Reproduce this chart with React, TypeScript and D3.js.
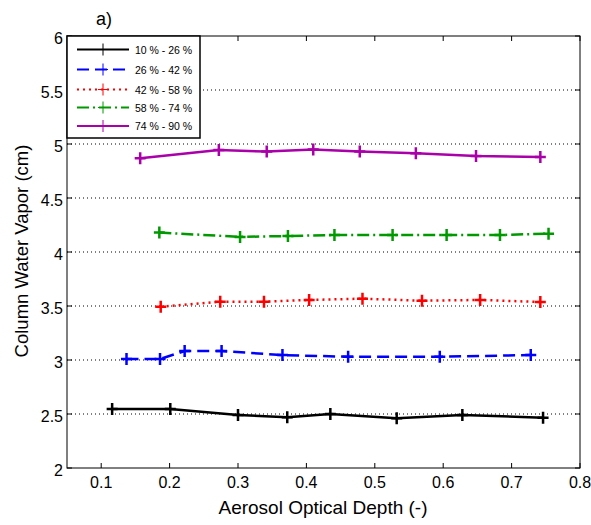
import React, { useEffect, useRef } from 'react';
import * as d3 from 'd3';

// Series data (AOD, column water vapor)
const seriesNames = ['10% - 26%', '26% - 42%', '42% - 58%', '58% - 74%', '74% - 90%'];
const seriesColors = ['#000000', '#0000ff', '#ff0000', '#009900', '#aa00aa'];
const seriesDash = ['', '12,6', '2,4', '12,4,2,4', ''];

const aod1 = [0.116, 0.201, 0.300, 0.372, 0.435, 0.532, 0.628, 0.746];
const cwv1 = [2.546, 2.546, 2.49, 2.47, 2.50, 2.46, 2.49, 2.466];
const aod2 = [0.137, 0.186, 0.222, 0.276, 0.365, 0.461, 0.595, 0.728];
const cwv2 = [3.009, 3.009, 3.083, 3.083, 3.046, 3.03, 3.03, 3.046];
const aod3 = [0.187, 0.274, 0.338, 0.404, 0.482, 0.569, 0.654, 0.742];
const cwv3 = [3.493, 3.54, 3.54, 3.556, 3.568, 3.549, 3.556, 3.537];
const aod4 = [0.185, 0.303, 0.373, 0.441, 0.526, 0.605, 0.683, 0.754];
const cwv4 = [4.18, 4.14, 4.148, 4.157, 4.157, 4.157, 4.157, 4.17];
const aod5 = [0.157, 0.272, 0.342, 0.410, 0.478, 0.560, 0.648, 0.742];
const cwv5 = [4.868, 4.944, 4.93, 4.95, 4.93, 4.914, 4.89, 4.88];

const xTicks = [0.1, 0.2, 0.3, 0.4, 0.5, 0.6, 0.7, 0.8];
const yTicks = [2, 2.5, 3, 3.5, 4, 4.5, 5, 5.5, 6];

export default function App() {
    const ref = useRef<SVGSVGElement>(null);

    useEffect(() => {
        const svg = d3.select(ref.current);
        svg.selectAll('*').remove();

        const left = 67, right = 580, top = 36, bottom = 468;
        const font = 'Liberation Sans, Arial, sans-serif';

        const x = d3.scaleLinear().domain([0.05, 0.8]).range([left, right]);
        const y = d3.scaleLinear().domain([2, 6]).range([bottom, top]);

        svg.append('rect').attr('width', 591).attr('height', 525).attr('fill', '#fff');

        // Grid lines
        svg.append('g').selectAll('line')
            .data(yTicks.filter(t => t > 2 && t < 6))
            .enter().append('line')
            .attr('x1', left).attr('x2', right)
            .attr('y1', d => y(d)).attr('y2', d => y(d))
            .attr('stroke', '#000').attr('stroke-width', 1)
            .attr('stroke-dasharray', '1,3');

        // Series
        const allData = [
            [aod1, cwv1], [aod2, cwv2], [aod3, cwv3], [aod4, cwv4], [aod5, cwv5]
        ];
        const line = d3.line<[number, number]>().x(d => x(d[0])).y(d => y(d[1]));

        allData.forEach(([xs, ys], i) => {
            const pts: [number, number][] = xs.map((v, j) => [v, ys[j]]);
            const g = svg.append('g');
            g.append('path')
                .attr('d', line(pts))
                .attr('fill', 'none')
                .attr('stroke', seriesColors[i])
                .attr('stroke-width', 2.5)
                .attr('stroke-dasharray', seriesDash[i]);
            g.selectAll('path.m')
                .data(pts)
                .enter().append('path')
                .attr('class', 'm')
                .attr('d', d => {
                    const cx = x(d[0]), cy = y(d[1]);
                    return `M${cx - 5.5},${cy}H${cx + 5.5}M${cx},${cy - 6}V${cy + 6}`;
                })
                .attr('stroke', seriesColors[i])
                .attr('stroke-width', 2.5);
        });

        // Axes box
        svg.append('rect')
            .attr('x', left).attr('y', top)
            .attr('width', right - left).attr('height', bottom - top)
            .attr('fill', 'none').attr('stroke', '#000').attr('stroke-width', 1);

        // Ticks
        const tk = svg.append('g').attr('stroke', '#000').attr('stroke-width', 1);
        xTicks.forEach(t => {
            tk.append('line').attr('x1', x(t)).attr('x2', x(t)).attr('y1', bottom).attr('y2', bottom - 5);
            tk.append('line').attr('x1', x(t)).attr('x2', x(t)).attr('y1', top).attr('y2', top + 5);
        });
        yTicks.forEach(t => {
            tk.append('line').attr('x1', left).attr('x2', left + 5).attr('y1', y(t)).attr('y2', y(t));
            tk.append('line').attr('x1', right).attr('x2', right - 5).attr('y1', y(t)).attr('y2', y(t));
        });

        // Tick labels
        svg.append('g').selectAll('text')
            .data(xTicks)
            .enter().append('text')
            .attr('x', d => x(d)).attr('y', bottom + 20)
            .attr('text-anchor', 'middle')
            .attr('font-family', font).attr('font-size', 16)
            .text(d => String(d));
        svg.append('g').selectAll('text')
            .data(yTicks)
            .enter().append('text')
            .attr('x', left - 4).attr('y', d => y(d) + 8)
            .attr('text-anchor', 'end')
            .attr('font-family', font).attr('font-size', 16)
            .text(d => String(d));

        // Axis titles
        svg.append('text')
            .attr('x', 323).attr('y', 514)
            .attr('text-anchor', 'middle')
            .attr('font-family', font).attr('font-size', 19)
            .text('Aerosol Optical Depth (-)');
        svg.append('text')
            .attr('transform', `translate(28,${251}) rotate(-90)`)
            .attr('text-anchor', 'middle')
            .attr('font-family', font).attr('font-size', 18.5)
            .text('Column Water Vapor (cm)');
        svg.append('text')
            .attr('x', 96).attr('y', 25)
            .attr('font-family', font).attr('font-size', 18)
            .text('a)');

        // Legend
        const lg = svg.append('g');
        lg.append('rect')
            .attr('x', left).attr('y', top)
            .attr('width', 133).attr('height', 102)
            .attr('fill', '#fff').attr('stroke', '#000').attr('stroke-width', 1.5);
        const legendY = [49.5, 69.5, 89.5, 107.5, 126];
        seriesNames.forEach((name, i) => {
            const ly = legendY[i];
            lg.append('line')
                .attr('x1', 77).attr('x2', 129).attr('y1', ly).attr('y2', ly)
                .attr('stroke', seriesColors[i]).attr('stroke-width', 2)
                .attr('stroke-dasharray', seriesDash[i]);
            lg.append('path')
                .attr('d', `M98,${ly}H108M103,${ly - 6}V${ly + 6}`)
                .attr('stroke', seriesColors[i]).attr('stroke-width', 1);
            lg.append('text')
                .attr('x', 135).attr('y', ly + 4)
                .attr('font-family', font).attr('font-size', 10.5)
                .text(name.replace(/%/g, ' %'));
        });
    }, []);

    return (
        <svg ref={ref} width={591} height={525} style={{ display: 'block', position: 'absolute', left: 0, top: 0 }}></svg>
    );
}
